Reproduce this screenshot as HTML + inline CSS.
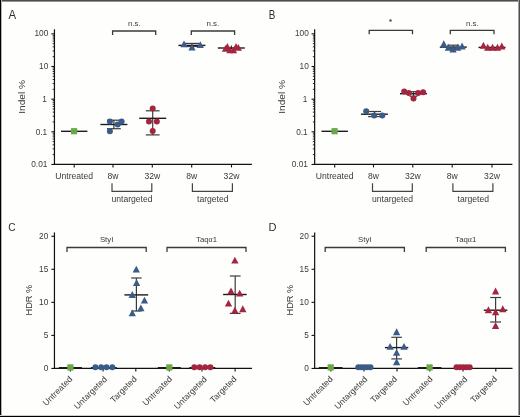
<!DOCTYPE html>
<html><head><meta charset="utf-8"><style>
html,body{margin:0;padding:0;background:#fff;}
body{width:520px;height:417px;overflow:hidden;}
svg{display:block;}
svg{will-change:transform;}
text{font-family:"Liberation Sans",sans-serif;}
</style></head><body>
<svg width="520" height="417" viewBox="0 0 520 417">
<rect x="0" y="0" width="520" height="417" fill="#fefefd"/>
<text class="m tx" x="8.50" y="19" font-size="12.4" fill="#2e2e2e" textLength="7.6" lengthAdjust="spacingAndGlyphs">A</text>
<line x1="54.45" y1="29.30" x2="54.45" y2="165.00" stroke="#111" stroke-width="1.2"/>
<line x1="53.85" y1="164.45" x2="251.90" y2="164.45" stroke="#111" stroke-width="1.2"/>
<line x1="51.35" y1="164.45" x2="54.45" y2="164.45" stroke="#111" stroke-width="1.1"/>
<line x1="52.65" y1="154.62" x2="54.45" y2="154.62" stroke="#111" stroke-width="0.9"/>
<line x1="52.65" y1="148.87" x2="54.45" y2="148.87" stroke="#111" stroke-width="0.9"/>
<line x1="52.65" y1="144.79" x2="54.45" y2="144.79" stroke="#111" stroke-width="0.9"/>
<line x1="52.65" y1="141.63" x2="54.45" y2="141.63" stroke="#111" stroke-width="0.9"/>
<line x1="52.65" y1="139.04" x2="54.45" y2="139.04" stroke="#111" stroke-width="0.9"/>
<line x1="52.65" y1="136.86" x2="54.45" y2="136.86" stroke="#111" stroke-width="0.9"/>
<line x1="52.65" y1="134.96" x2="54.45" y2="134.96" stroke="#111" stroke-width="0.9"/>
<line x1="52.65" y1="133.29" x2="54.45" y2="133.29" stroke="#111" stroke-width="0.9"/>
<line x1="51.35" y1="131.80" x2="54.45" y2="131.80" stroke="#111" stroke-width="1.1"/>
<line x1="52.65" y1="121.97" x2="54.45" y2="121.97" stroke="#111" stroke-width="0.9"/>
<line x1="52.65" y1="116.22" x2="54.45" y2="116.22" stroke="#111" stroke-width="0.9"/>
<line x1="52.65" y1="112.14" x2="54.45" y2="112.14" stroke="#111" stroke-width="0.9"/>
<line x1="52.65" y1="108.98" x2="54.45" y2="108.98" stroke="#111" stroke-width="0.9"/>
<line x1="52.65" y1="106.39" x2="54.45" y2="106.39" stroke="#111" stroke-width="0.9"/>
<line x1="52.65" y1="104.21" x2="54.45" y2="104.21" stroke="#111" stroke-width="0.9"/>
<line x1="52.65" y1="102.31" x2="54.45" y2="102.31" stroke="#111" stroke-width="0.9"/>
<line x1="52.65" y1="100.64" x2="54.45" y2="100.64" stroke="#111" stroke-width="0.9"/>
<line x1="51.35" y1="99.15" x2="54.45" y2="99.15" stroke="#111" stroke-width="1.1"/>
<line x1="52.65" y1="89.32" x2="54.45" y2="89.32" stroke="#111" stroke-width="0.9"/>
<line x1="52.65" y1="83.57" x2="54.45" y2="83.57" stroke="#111" stroke-width="0.9"/>
<line x1="52.65" y1="79.49" x2="54.45" y2="79.49" stroke="#111" stroke-width="0.9"/>
<line x1="52.65" y1="76.33" x2="54.45" y2="76.33" stroke="#111" stroke-width="0.9"/>
<line x1="52.65" y1="73.74" x2="54.45" y2="73.74" stroke="#111" stroke-width="0.9"/>
<line x1="52.65" y1="71.56" x2="54.45" y2="71.56" stroke="#111" stroke-width="0.9"/>
<line x1="52.65" y1="69.66" x2="54.45" y2="69.66" stroke="#111" stroke-width="0.9"/>
<line x1="52.65" y1="67.99" x2="54.45" y2="67.99" stroke="#111" stroke-width="0.9"/>
<line x1="51.35" y1="66.50" x2="54.45" y2="66.50" stroke="#111" stroke-width="1.1"/>
<line x1="52.65" y1="56.67" x2="54.45" y2="56.67" stroke="#111" stroke-width="0.9"/>
<line x1="52.65" y1="50.92" x2="54.45" y2="50.92" stroke="#111" stroke-width="0.9"/>
<line x1="52.65" y1="46.84" x2="54.45" y2="46.84" stroke="#111" stroke-width="0.9"/>
<line x1="52.65" y1="43.68" x2="54.45" y2="43.68" stroke="#111" stroke-width="0.9"/>
<line x1="52.65" y1="41.09" x2="54.45" y2="41.09" stroke="#111" stroke-width="0.9"/>
<line x1="52.65" y1="38.91" x2="54.45" y2="38.91" stroke="#111" stroke-width="0.9"/>
<line x1="52.65" y1="37.01" x2="54.45" y2="37.01" stroke="#111" stroke-width="0.9"/>
<line x1="52.65" y1="35.34" x2="54.45" y2="35.34" stroke="#111" stroke-width="0.9"/>
<line x1="51.35" y1="33.85" x2="54.45" y2="33.85" stroke="#111" stroke-width="1.1"/>
<text class="m tx" x="48.30" y="36.00" font-size="8.3" text-anchor="end" fill="#3a3a3a" >100</text>
<text class="m tx" x="48.30" y="69.00" font-size="8.3" text-anchor="end" fill="#3a3a3a" >10</text>
<text class="m tx" x="46.90" y="102.00" font-size="8.3" text-anchor="end" fill="#3a3a3a" >1</text>
<text class="m tx" x="47.20" y="135.00" font-size="8.3" text-anchor="end" fill="#3a3a3a" >0.1</text>
<text class="m tx" x="47.40" y="167.00" font-size="8.3" text-anchor="end" fill="#3a3a3a" >0.01</text>
<text class="m" transform="translate(24.60,96.9) rotate(-90)" font-size="9.2" text-anchor="middle" fill="#3a3a3a" textLength="33.8" lengthAdjust="spacingAndGlyphs">Indel %</text>
<line x1="74.20" y1="164.45" x2="74.20" y2="167.40" stroke="#111" stroke-width="1.1"/>
<line x1="113.00" y1="164.45" x2="113.00" y2="167.40" stroke="#111" stroke-width="1.1"/>
<line x1="152.30" y1="164.45" x2="152.30" y2="167.40" stroke="#111" stroke-width="1.1"/>
<line x1="191.70" y1="164.45" x2="191.70" y2="167.40" stroke="#111" stroke-width="1.1"/>
<line x1="231.50" y1="164.45" x2="231.50" y2="167.40" stroke="#111" stroke-width="1.1"/>
<text class="m tx" x="74.20" y="178.80" font-size="8.6" text-anchor="middle" fill="#3a3a3a" >Untreated</text>
<text class="m tx" x="113.00" y="178.80" font-size="8.6" text-anchor="middle" fill="#3a3a3a" >8w</text>
<text class="m tx" x="152.30" y="178.80" font-size="8.6" text-anchor="middle" fill="#3a3a3a" >32w</text>
<text class="m tx" x="191.70" y="178.80" font-size="8.6" text-anchor="middle" fill="#3a3a3a" >8w</text>
<text class="m tx" x="231.50" y="178.80" font-size="8.6" text-anchor="middle" fill="#3a3a3a" >32w</text>
<path d="M112.00 183.20V191.30H151.80V183.20" fill="none" stroke="#444" stroke-width="1.2"/>
<text class="m tx" x="132.00" y="202.20" font-size="8.6" text-anchor="middle" fill="#3a3a3a" >untargeted</text>
<path d="M192.40 183.20V191.30H232.40V183.20" fill="none" stroke="#444" stroke-width="1.2"/>
<text class="m tx" x="212.80" y="202.20" font-size="8.6" text-anchor="middle" fill="#3a3a3a" >targeted</text>
<path d="M112.60 35.00V31.00H155.70V35.00" fill="none" stroke="#3a3a3a" stroke-width="1.3"/>
<text class="m tx" x="134.30" y="25.90" font-size="7.9" text-anchor="middle" fill="#3a3a3a" >n.s.</text>
<path d="M191.30 35.00V31.00H234.60V35.00" fill="none" stroke="#3a3a3a" stroke-width="1.3"/>
<text class="m tx" x="212.90" y="25.90" font-size="7.9" text-anchor="middle" fill="#3a3a3a" >n.s.</text>
<line x1="61.00" y1="131.30" x2="87.40" y2="131.30" stroke="#1c1c1c" stroke-width="1.4"/>
<rect x="71.00" y="128.10" width="6.2" height="6.2" fill="#69a847"/>
<line x1="113.90" y1="120.20" x2="113.90" y2="128.70" stroke="#3c3c3c" stroke-width="1.2"/>
<line x1="107.00" y1="120.20" x2="120.80" y2="120.20" stroke="#3c3c3c" stroke-width="1.2"/>
<line x1="107.00" y1="128.70" x2="120.80" y2="128.70" stroke="#3c3c3c" stroke-width="1.2"/>
<line x1="100.40" y1="124.50" x2="127.40" y2="124.50" stroke="#1c1c1c" stroke-width="1.4"/>
<circle cx="109.90" cy="121.40" r="3.0" fill="#3b5b89"/>
<circle cx="121.60" cy="121.40" r="3.0" fill="#3b5b89"/>
<circle cx="117.70" cy="124.60" r="3.0" fill="#3b5b89"/>
<circle cx="109.90" cy="131.30" r="3.0" fill="#3b5b89"/>
<line x1="152.70" y1="110.80" x2="152.70" y2="134.90" stroke="#3c3c3c" stroke-width="1.2"/>
<line x1="145.80" y1="110.80" x2="159.60" y2="110.80" stroke="#3c3c3c" stroke-width="1.2"/>
<line x1="145.80" y1="134.90" x2="159.60" y2="134.90" stroke="#3c3c3c" stroke-width="1.2"/>
<line x1="139.20" y1="118.30" x2="166.20" y2="118.30" stroke="#1c1c1c" stroke-width="1.4"/>
<circle cx="152.70" cy="108.50" r="3.0" fill="#a3253f"/>
<circle cx="149.00" cy="121.60" r="3.0" fill="#a3253f"/>
<circle cx="156.80" cy="121.60" r="3.0" fill="#a3253f"/>
<circle cx="152.70" cy="130.90" r="3.0" fill="#a3253f"/>
<line x1="191.90" y1="43.40" x2="191.90" y2="46.50" stroke="#3c3c3c" stroke-width="1.2"/>
<line x1="184.40" y1="43.40" x2="199.40" y2="43.40" stroke="#3c3c3c" stroke-width="1.2"/>
<line x1="184.40" y1="46.50" x2="199.40" y2="46.50" stroke="#3c3c3c" stroke-width="1.2"/>
<line x1="178.40" y1="45.40" x2="205.40" y2="45.40" stroke="#1c1c1c" stroke-width="1.4"/>
<path d="M184.00 40.45L187.65 47.35L180.35 47.35Z" fill="#3b5b89"/>
<path d="M192.00 43.65L195.65 50.55L188.35 50.55Z" fill="#3b5b89"/>
<path d="M200.30 41.15L203.95 48.05L196.65 48.05Z" fill="#3b5b89"/>
<line x1="217.80" y1="48.00" x2="244.80" y2="48.00" stroke="#1c1c1c" stroke-width="1.4"/>
<path d="M225.50 44.95L229.15 51.85L221.85 51.85Z" fill="#a3253f"/>
<path d="M227.40 43.05L231.05 49.95L223.75 49.95Z" fill="#a3253f"/>
<path d="M230.00 46.45L233.65 53.35L226.35 53.35Z" fill="#a3253f"/>
<path d="M233.50 46.45L237.15 53.35L229.85 53.35Z" fill="#a3253f"/>
<path d="M236.00 43.05L239.65 49.95L232.35 49.95Z" fill="#a3253f"/>
<path d="M238.30 43.95L241.95 50.85L234.65 50.85Z" fill="#a3253f"/>
<line x1="231.30" y1="45.50" x2="231.30" y2="49.00" stroke="#111" stroke-width="1.0"/>
<text class="m tx" x="268.80" y="19" font-size="12.4" fill="#2e2e2e" textLength="6.6" lengthAdjust="spacingAndGlyphs">B</text>
<line x1="314.65" y1="29.30" x2="314.65" y2="165.00" stroke="#111" stroke-width="1.2"/>
<line x1="314.05" y1="164.45" x2="512.40" y2="164.45" stroke="#111" stroke-width="1.2"/>
<line x1="311.55" y1="164.45" x2="314.65" y2="164.45" stroke="#111" stroke-width="1.1"/>
<line x1="312.85" y1="154.62" x2="314.65" y2="154.62" stroke="#111" stroke-width="0.9"/>
<line x1="312.85" y1="148.87" x2="314.65" y2="148.87" stroke="#111" stroke-width="0.9"/>
<line x1="312.85" y1="144.79" x2="314.65" y2="144.79" stroke="#111" stroke-width="0.9"/>
<line x1="312.85" y1="141.63" x2="314.65" y2="141.63" stroke="#111" stroke-width="0.9"/>
<line x1="312.85" y1="139.04" x2="314.65" y2="139.04" stroke="#111" stroke-width="0.9"/>
<line x1="312.85" y1="136.86" x2="314.65" y2="136.86" stroke="#111" stroke-width="0.9"/>
<line x1="312.85" y1="134.96" x2="314.65" y2="134.96" stroke="#111" stroke-width="0.9"/>
<line x1="312.85" y1="133.29" x2="314.65" y2="133.29" stroke="#111" stroke-width="0.9"/>
<line x1="311.55" y1="131.80" x2="314.65" y2="131.80" stroke="#111" stroke-width="1.1"/>
<line x1="312.85" y1="121.97" x2="314.65" y2="121.97" stroke="#111" stroke-width="0.9"/>
<line x1="312.85" y1="116.22" x2="314.65" y2="116.22" stroke="#111" stroke-width="0.9"/>
<line x1="312.85" y1="112.14" x2="314.65" y2="112.14" stroke="#111" stroke-width="0.9"/>
<line x1="312.85" y1="108.98" x2="314.65" y2="108.98" stroke="#111" stroke-width="0.9"/>
<line x1="312.85" y1="106.39" x2="314.65" y2="106.39" stroke="#111" stroke-width="0.9"/>
<line x1="312.85" y1="104.21" x2="314.65" y2="104.21" stroke="#111" stroke-width="0.9"/>
<line x1="312.85" y1="102.31" x2="314.65" y2="102.31" stroke="#111" stroke-width="0.9"/>
<line x1="312.85" y1="100.64" x2="314.65" y2="100.64" stroke="#111" stroke-width="0.9"/>
<line x1="311.55" y1="99.15" x2="314.65" y2="99.15" stroke="#111" stroke-width="1.1"/>
<line x1="312.85" y1="89.32" x2="314.65" y2="89.32" stroke="#111" stroke-width="0.9"/>
<line x1="312.85" y1="83.57" x2="314.65" y2="83.57" stroke="#111" stroke-width="0.9"/>
<line x1="312.85" y1="79.49" x2="314.65" y2="79.49" stroke="#111" stroke-width="0.9"/>
<line x1="312.85" y1="76.33" x2="314.65" y2="76.33" stroke="#111" stroke-width="0.9"/>
<line x1="312.85" y1="73.74" x2="314.65" y2="73.74" stroke="#111" stroke-width="0.9"/>
<line x1="312.85" y1="71.56" x2="314.65" y2="71.56" stroke="#111" stroke-width="0.9"/>
<line x1="312.85" y1="69.66" x2="314.65" y2="69.66" stroke="#111" stroke-width="0.9"/>
<line x1="312.85" y1="67.99" x2="314.65" y2="67.99" stroke="#111" stroke-width="0.9"/>
<line x1="311.55" y1="66.50" x2="314.65" y2="66.50" stroke="#111" stroke-width="1.1"/>
<line x1="312.85" y1="56.67" x2="314.65" y2="56.67" stroke="#111" stroke-width="0.9"/>
<line x1="312.85" y1="50.92" x2="314.65" y2="50.92" stroke="#111" stroke-width="0.9"/>
<line x1="312.85" y1="46.84" x2="314.65" y2="46.84" stroke="#111" stroke-width="0.9"/>
<line x1="312.85" y1="43.68" x2="314.65" y2="43.68" stroke="#111" stroke-width="0.9"/>
<line x1="312.85" y1="41.09" x2="314.65" y2="41.09" stroke="#111" stroke-width="0.9"/>
<line x1="312.85" y1="38.91" x2="314.65" y2="38.91" stroke="#111" stroke-width="0.9"/>
<line x1="312.85" y1="37.01" x2="314.65" y2="37.01" stroke="#111" stroke-width="0.9"/>
<line x1="312.85" y1="35.34" x2="314.65" y2="35.34" stroke="#111" stroke-width="0.9"/>
<line x1="311.55" y1="33.85" x2="314.65" y2="33.85" stroke="#111" stroke-width="1.1"/>
<text class="m tx" x="308.80" y="36.00" font-size="8.3" text-anchor="end" fill="#3a3a3a" >100</text>
<text class="m tx" x="308.80" y="69.00" font-size="8.3" text-anchor="end" fill="#3a3a3a" >10</text>
<text class="m tx" x="307.40" y="102.00" font-size="8.3" text-anchor="end" fill="#3a3a3a" >1</text>
<text class="m tx" x="307.70" y="135.00" font-size="8.3" text-anchor="end" fill="#3a3a3a" >0.1</text>
<text class="m tx" x="307.90" y="167.00" font-size="8.3" text-anchor="end" fill="#3a3a3a" >0.01</text>
<text class="m" transform="translate(285.10,96.9) rotate(-90)" font-size="9.2" text-anchor="middle" fill="#3a3a3a" textLength="33.8" lengthAdjust="spacingAndGlyphs">Indel %</text>
<line x1="334.70" y1="164.45" x2="334.70" y2="167.40" stroke="#111" stroke-width="1.1"/>
<line x1="373.50" y1="164.45" x2="373.50" y2="167.40" stroke="#111" stroke-width="1.1"/>
<line x1="412.80" y1="164.45" x2="412.80" y2="167.40" stroke="#111" stroke-width="1.1"/>
<line x1="452.20" y1="164.45" x2="452.20" y2="167.40" stroke="#111" stroke-width="1.1"/>
<line x1="492.00" y1="164.45" x2="492.00" y2="167.40" stroke="#111" stroke-width="1.1"/>
<text class="m tx" x="334.70" y="178.80" font-size="8.6" text-anchor="middle" fill="#3a3a3a" >Untreated</text>
<text class="m tx" x="373.50" y="178.80" font-size="8.6" text-anchor="middle" fill="#3a3a3a" >8w</text>
<text class="m tx" x="412.80" y="178.80" font-size="8.6" text-anchor="middle" fill="#3a3a3a" >32w</text>
<text class="m tx" x="452.20" y="178.80" font-size="8.6" text-anchor="middle" fill="#3a3a3a" >8w</text>
<text class="m tx" x="492.00" y="178.80" font-size="8.6" text-anchor="middle" fill="#3a3a3a" >32w</text>
<path d="M372.50 183.20V191.30H412.30V183.20" fill="none" stroke="#444" stroke-width="1.2"/>
<text class="m tx" x="392.50" y="202.20" font-size="8.6" text-anchor="middle" fill="#3a3a3a" >untargeted</text>
<path d="M452.90 183.20V191.30H492.90V183.20" fill="none" stroke="#444" stroke-width="1.2"/>
<text class="m tx" x="473.30" y="202.20" font-size="8.6" text-anchor="middle" fill="#3a3a3a" >targeted</text>
<path d="M369.20 34.30V30.30H412.50V34.30" fill="none" stroke="#3a3a3a" stroke-width="1.3"/>
<circle cx="390.50" cy="20.60" r="1.25" fill="#555"/>
<path d="M450.30 34.30V30.30H494.00V34.30" fill="none" stroke="#3a3a3a" stroke-width="1.3"/>
<text class="m tx" x="472.40" y="25.90" font-size="7.9" text-anchor="middle" fill="#3a3a3a" >n.s.</text>
<line x1="321.50" y1="131.30" x2="347.90" y2="131.30" stroke="#1c1c1c" stroke-width="1.4"/>
<rect x="331.50" y="128.10" width="6.2" height="6.2" fill="#69a847"/>
<line x1="374.60" y1="111.50" x2="374.60" y2="116.60" stroke="#3c3c3c" stroke-width="1.2"/>
<line x1="368.10" y1="111.50" x2="381.10" y2="111.50" stroke="#3c3c3c" stroke-width="1.2"/>
<line x1="368.10" y1="116.60" x2="381.10" y2="116.60" stroke="#3c3c3c" stroke-width="1.2"/>
<line x1="360.90" y1="114.20" x2="387.90" y2="114.20" stroke="#1c1c1c" stroke-width="1.4"/>
<circle cx="366.20" cy="111.20" r="3.0" fill="#3b5b89"/>
<circle cx="374.20" cy="115.40" r="3.0" fill="#3b5b89"/>
<circle cx="382.30" cy="115.40" r="3.0" fill="#3b5b89"/>
<line x1="413.50" y1="91.70" x2="413.50" y2="96.20" stroke="#3c3c3c" stroke-width="1.2"/>
<line x1="409.50" y1="91.70" x2="417.50" y2="91.70" stroke="#3c3c3c" stroke-width="1.2"/>
<line x1="409.50" y1="96.20" x2="417.50" y2="96.20" stroke="#3c3c3c" stroke-width="1.2"/>
<line x1="400.00" y1="93.70" x2="427.00" y2="93.70" stroke="#1c1c1c" stroke-width="1.4"/>
<circle cx="404.20" cy="91.40" r="3.0" fill="#a3253f"/>
<circle cx="408.80" cy="93.10" r="3.0" fill="#a3253f"/>
<circle cx="418.10" cy="93.10" r="3.0" fill="#a3253f"/>
<circle cx="423.10" cy="92.30" r="3.0" fill="#a3253f"/>
<circle cx="413.50" cy="98.50" r="3.0" fill="#a3253f"/>
<line x1="453.30" y1="45.20" x2="453.30" y2="48.40" stroke="#3c3c3c" stroke-width="1.2"/>
<line x1="447.30" y1="45.20" x2="459.30" y2="45.20" stroke="#3c3c3c" stroke-width="1.2"/>
<line x1="447.30" y1="48.40" x2="459.30" y2="48.40" stroke="#3c3c3c" stroke-width="1.2"/>
<line x1="439.80" y1="47.10" x2="466.80" y2="47.10" stroke="#1c1c1c" stroke-width="1.4"/>
<path d="M443.80 40.25L447.45 47.15L440.15 47.15Z" fill="#3b5b89"/>
<path d="M448.40 43.85L452.05 50.75L444.75 50.75Z" fill="#3b5b89"/>
<path d="M457.60 43.85L461.25 50.75L453.95 50.75Z" fill="#3b5b89"/>
<path d="M462.10 42.55L465.75 49.45L458.45 49.45Z" fill="#3b5b89"/>
<path d="M453.00 45.55L456.65 52.45L449.35 52.45Z" fill="#3b5b89"/>
<line x1="478.50" y1="47.40" x2="505.50" y2="47.40" stroke="#1c1c1c" stroke-width="1.4"/>
<path d="M483.40 41.85L487.05 48.75L479.75 48.75Z" fill="#a3253f"/>
<path d="M487.70 43.85L491.35 50.75L484.05 50.75Z" fill="#a3253f"/>
<path d="M492.60 43.85L496.25 50.75L488.95 50.75Z" fill="#a3253f"/>
<path d="M497.50 43.85L501.15 50.75L493.85 50.75Z" fill="#a3253f"/>
<path d="M501.80 42.55L505.45 49.45L498.15 49.45Z" fill="#a3253f"/>
<text class="m tx" x="8.20" y="231.1" font-size="11.6" fill="#2e2e2e" textLength="7.3" lengthAdjust="spacingAndGlyphs">C</text>
<line x1="54.45" y1="232.40" x2="54.45" y2="369.00" stroke="#111" stroke-width="1.2"/>
<line x1="53.85" y1="368.45" x2="252.00" y2="368.45" stroke="#111" stroke-width="1.2"/>
<line x1="51.35" y1="368.45" x2="54.45" y2="368.45" stroke="#111" stroke-width="1.1"/>
<text class="m tx" x="48.30" y="371.45" font-size="8.3" text-anchor="end" fill="#3a3a3a" >0</text>
<line x1="51.35" y1="335.40" x2="54.45" y2="335.40" stroke="#111" stroke-width="1.1"/>
<text class="m tx" x="48.30" y="338.40" font-size="8.3" text-anchor="end" fill="#3a3a3a" >5</text>
<line x1="51.35" y1="302.35" x2="54.45" y2="302.35" stroke="#111" stroke-width="1.1"/>
<text class="m tx" x="48.30" y="305.35" font-size="8.3" text-anchor="end" fill="#3a3a3a" >10</text>
<line x1="51.35" y1="269.30" x2="54.45" y2="269.30" stroke="#111" stroke-width="1.1"/>
<text class="m tx" x="48.30" y="272.30" font-size="8.3" text-anchor="end" fill="#3a3a3a" >15</text>
<line x1="51.35" y1="236.25" x2="54.45" y2="236.25" stroke="#111" stroke-width="1.1"/>
<text class="m tx" x="48.30" y="239.25" font-size="8.3" text-anchor="end" fill="#3a3a3a" >20</text>
<text class="m" transform="translate(32.30,300.1) rotate(-90)" font-size="9.9" text-anchor="middle" fill="#3a3a3a" textLength="30.6" lengthAdjust="spacingAndGlyphs">HDR %</text>
<line x1="70.40" y1="368.45" x2="70.40" y2="371.40" stroke="#111" stroke-width="1.1"/>
<line x1="103.10" y1="368.45" x2="103.10" y2="371.40" stroke="#111" stroke-width="1.1"/>
<line x1="135.80" y1="368.45" x2="135.80" y2="371.40" stroke="#111" stroke-width="1.1"/>
<line x1="169.30" y1="368.45" x2="169.30" y2="371.40" stroke="#111" stroke-width="1.1"/>
<line x1="202.00" y1="368.45" x2="202.00" y2="371.40" stroke="#111" stroke-width="1.1"/>
<line x1="235.10" y1="368.45" x2="235.10" y2="371.40" stroke="#111" stroke-width="1.1"/>
<text class="m" transform="translate(72.95,379.65) rotate(-45)" font-size="8.6" text-anchor="end" fill="#3a3a3a">Untreated</text>
<text class="m" transform="translate(107.55,379.75) rotate(-45)" font-size="8.6" text-anchor="end" fill="#3a3a3a">Untargeted</text>
<text class="m" transform="translate(137.30,379.65) rotate(-45)" font-size="8.6" text-anchor="end" fill="#3a3a3a">Targeted</text>
<text class="m" transform="translate(172.65,379.65) rotate(-45)" font-size="8.6" text-anchor="end" fill="#3a3a3a">Untreated</text>
<text class="m" transform="translate(207.45,379.75) rotate(-45)" font-size="8.6" text-anchor="end" fill="#3a3a3a">Untargeted</text>
<text class="m" transform="translate(237.20,379.65) rotate(-45)" font-size="8.6" text-anchor="end" fill="#3a3a3a">Targeted</text>
<path d="M67.00 252.10V247.50H146.20V252.10" fill="none" stroke="#3a3a3a" stroke-width="1.3"/>
<text class="m tx" x="106.60" y="241.90" font-size="7.8" text-anchor="middle" fill="#3a3a3a" >StyI</text>
<path d="M167.00 252.10V247.50H246.00V252.10" fill="none" stroke="#3a3a3a" stroke-width="1.3"/>
<text class="m tx" x="206.50" y="241.90" font-size="7.8" text-anchor="middle" fill="#3a3a3a" >Taq<tspan font-family="Liberation Serif">&#945;</tspan>1</text>
<line x1="58.90" y1="367.70" x2="81.90" y2="367.70" stroke="#1c1c1c" stroke-width="1.4"/>
<rect x="67.30" y="364.30" width="6.2" height="6.2" fill="#69a847"/>
<line x1="90.80" y1="367.70" x2="116.80" y2="367.70" stroke="#1c1c1c" stroke-width="1.4"/>
<circle cx="95.40" cy="367.30" r="3.0" fill="#3b5b89"/>
<circle cx="101.20" cy="367.30" r="3.0" fill="#3b5b89"/>
<circle cx="106.50" cy="367.30" r="3.0" fill="#3b5b89"/>
<circle cx="112.30" cy="367.30" r="3.0" fill="#3b5b89"/>
<line x1="136.40" y1="278.00" x2="136.40" y2="311.00" stroke="#3c3c3c" stroke-width="1.2"/>
<line x1="131.20" y1="278.00" x2="141.60" y2="278.00" stroke="#3c3c3c" stroke-width="1.2"/>
<line x1="131.20" y1="311.00" x2="141.60" y2="311.00" stroke="#3c3c3c" stroke-width="1.2"/>
<line x1="124.40" y1="294.90" x2="148.20" y2="294.90" stroke="#1c1c1c" stroke-width="1.4"/>
<path d="M136.30 265.65L139.95 272.55L132.65 272.55Z" fill="#3b5b89"/>
<path d="M136.60 279.05L140.25 285.95L132.95 285.95Z" fill="#3b5b89"/>
<path d="M132.30 291.05L135.95 297.95L128.65 297.95Z" fill="#3b5b89"/>
<path d="M144.50 296.65L148.15 303.55L140.85 303.55Z" fill="#3b5b89"/>
<path d="M140.90 304.45L144.55 311.35L137.25 311.35Z" fill="#3b5b89"/>
<path d="M132.30 309.45L135.95 316.35L128.65 316.35Z" fill="#3b5b89"/>
<line x1="157.80" y1="367.70" x2="180.80" y2="367.70" stroke="#1c1c1c" stroke-width="1.4"/>
<rect x="166.20" y="364.30" width="6.2" height="6.2" fill="#69a847"/>
<line x1="189.30" y1="367.70" x2="215.30" y2="367.70" stroke="#1c1c1c" stroke-width="1.4"/>
<circle cx="194.30" cy="367.30" r="3.0" fill="#a3253f"/>
<circle cx="199.60" cy="367.30" r="3.0" fill="#a3253f"/>
<circle cx="205.10" cy="367.30" r="3.0" fill="#a3253f"/>
<circle cx="210.40" cy="367.30" r="3.0" fill="#a3253f"/>
<line x1="235.20" y1="276.00" x2="235.20" y2="313.40" stroke="#3c3c3c" stroke-width="1.2"/>
<line x1="229.80" y1="276.00" x2="240.60" y2="276.00" stroke="#3c3c3c" stroke-width="1.2"/>
<line x1="229.80" y1="313.40" x2="240.60" y2="313.40" stroke="#3c3c3c" stroke-width="1.2"/>
<line x1="223.10" y1="294.50" x2="246.70" y2="294.50" stroke="#1c1c1c" stroke-width="1.4"/>
<path d="M234.90 256.65L238.55 263.55L231.25 263.55Z" fill="#a3253f"/>
<path d="M231.00 287.45L234.65 294.35L227.35 294.35Z" fill="#a3253f"/>
<path d="M239.70 289.65L243.35 296.55L236.05 296.55Z" fill="#a3253f"/>
<path d="M228.50 299.65L232.15 306.55L224.85 306.55Z" fill="#a3253f"/>
<path d="M234.90 306.65L238.55 313.55L231.25 313.55Z" fill="#a3253f"/>
<path d="M242.80 305.35L246.45 312.25L239.15 312.25Z" fill="#a3253f"/>
<text class="m tx" x="268.40" y="231.1" font-size="11.6" fill="#2e2e2e" textLength="8.0" lengthAdjust="spacingAndGlyphs">D</text>
<line x1="314.65" y1="232.40" x2="314.65" y2="369.00" stroke="#111" stroke-width="1.2"/>
<line x1="314.05" y1="368.45" x2="512.50" y2="368.45" stroke="#111" stroke-width="1.2"/>
<line x1="311.55" y1="368.45" x2="314.65" y2="368.45" stroke="#111" stroke-width="1.1"/>
<text class="m tx" x="308.80" y="371.45" font-size="8.3" text-anchor="end" fill="#3a3a3a" >0</text>
<line x1="311.55" y1="335.40" x2="314.65" y2="335.40" stroke="#111" stroke-width="1.1"/>
<text class="m tx" x="308.80" y="338.40" font-size="8.3" text-anchor="end" fill="#3a3a3a" >5</text>
<line x1="311.55" y1="302.35" x2="314.65" y2="302.35" stroke="#111" stroke-width="1.1"/>
<text class="m tx" x="308.80" y="305.35" font-size="8.3" text-anchor="end" fill="#3a3a3a" >10</text>
<line x1="311.55" y1="269.30" x2="314.65" y2="269.30" stroke="#111" stroke-width="1.1"/>
<text class="m tx" x="308.80" y="272.30" font-size="8.3" text-anchor="end" fill="#3a3a3a" >15</text>
<line x1="311.55" y1="236.25" x2="314.65" y2="236.25" stroke="#111" stroke-width="1.1"/>
<text class="m tx" x="308.80" y="239.25" font-size="8.3" text-anchor="end" fill="#3a3a3a" >20</text>
<text class="m" transform="translate(292.80,300.1) rotate(-90)" font-size="9.9" text-anchor="middle" fill="#3a3a3a" textLength="30.6" lengthAdjust="spacingAndGlyphs">HDR %</text>
<line x1="330.80" y1="368.45" x2="330.80" y2="371.40" stroke="#111" stroke-width="1.1"/>
<line x1="364.00" y1="368.45" x2="364.00" y2="371.40" stroke="#111" stroke-width="1.1"/>
<line x1="397.00" y1="368.45" x2="397.00" y2="371.40" stroke="#111" stroke-width="1.1"/>
<line x1="429.80" y1="368.45" x2="429.80" y2="371.40" stroke="#111" stroke-width="1.1"/>
<line x1="463.00" y1="368.45" x2="463.00" y2="371.40" stroke="#111" stroke-width="1.1"/>
<line x1="495.80" y1="368.45" x2="495.80" y2="371.40" stroke="#111" stroke-width="1.1"/>
<text class="m" transform="translate(333.35,379.65) rotate(-45)" font-size="8.6" text-anchor="end" fill="#3a3a3a">Untreated</text>
<text class="m" transform="translate(367.95,379.75) rotate(-45)" font-size="8.6" text-anchor="end" fill="#3a3a3a">Untargeted</text>
<text class="m" transform="translate(397.70,379.65) rotate(-45)" font-size="8.6" text-anchor="end" fill="#3a3a3a">Targeted</text>
<text class="m" transform="translate(433.05,379.65) rotate(-45)" font-size="8.6" text-anchor="end" fill="#3a3a3a">Untreated</text>
<text class="m" transform="translate(467.85,379.75) rotate(-45)" font-size="8.6" text-anchor="end" fill="#3a3a3a">Untargeted</text>
<text class="m" transform="translate(497.60,379.65) rotate(-45)" font-size="8.6" text-anchor="end" fill="#3a3a3a">Targeted</text>
<path d="M325.20 252.10V247.50H404.40V252.10" fill="none" stroke="#3a3a3a" stroke-width="1.3"/>
<text class="m tx" x="364.80" y="241.90" font-size="7.8" text-anchor="middle" fill="#3a3a3a" >StyI</text>
<path d="M426.20 252.10V247.50H505.40V252.10" fill="none" stroke="#3a3a3a" stroke-width="1.3"/>
<text class="m tx" x="465.80" y="241.90" font-size="7.8" text-anchor="middle" fill="#3a3a3a" >Taq<tspan font-family="Liberation Serif">&#945;</tspan>1</text>
<line x1="318.90" y1="367.70" x2="342.50" y2="367.70" stroke="#1c1c1c" stroke-width="1.4"/>
<rect x="327.60" y="364.30" width="6.2" height="6.2" fill="#69a847"/>
<circle cx="358.30" cy="367.30" r="3.0" fill="#3b5b89"/>
<circle cx="361.40" cy="367.30" r="3.0" fill="#3b5b89"/>
<circle cx="364.50" cy="367.30" r="3.0" fill="#3b5b89"/>
<circle cx="367.50" cy="367.30" r="3.0" fill="#3b5b89"/>
<circle cx="370.50" cy="367.30" r="3.0" fill="#3b5b89"/>
<line x1="396.60" y1="337.30" x2="396.60" y2="358.90" stroke="#3c3c3c" stroke-width="1.2"/>
<line x1="391.30" y1="337.30" x2="401.90" y2="337.30" stroke="#3c3c3c" stroke-width="1.2"/>
<line x1="391.30" y1="358.90" x2="401.90" y2="358.90" stroke="#3c3c3c" stroke-width="1.2"/>
<line x1="384.90" y1="347.60" x2="408.30" y2="347.60" stroke="#1c1c1c" stroke-width="1.4"/>
<path d="M396.60 328.35L400.25 335.25L392.95 335.25Z" fill="#3b5b89"/>
<path d="M390.10 342.95L393.75 349.85L386.45 349.85Z" fill="#3b5b89"/>
<path d="M404.00 342.95L407.65 349.85L400.35 349.85Z" fill="#3b5b89"/>
<path d="M396.60 348.95L400.25 355.85L392.95 355.85Z" fill="#3b5b89"/>
<path d="M396.60 358.35L400.25 365.25L392.95 365.25Z" fill="#3b5b89"/>
<line x1="417.80" y1="367.70" x2="441.40" y2="367.70" stroke="#1c1c1c" stroke-width="1.4"/>
<rect x="426.50" y="364.30" width="6.2" height="6.2" fill="#69a847"/>
<circle cx="456.50" cy="367.30" r="3.0" fill="#a3253f"/>
<circle cx="459.80" cy="367.30" r="3.0" fill="#a3253f"/>
<circle cx="463.10" cy="367.30" r="3.0" fill="#a3253f"/>
<circle cx="466.40" cy="367.30" r="3.0" fill="#a3253f"/>
<circle cx="469.70" cy="367.30" r="3.0" fill="#a3253f"/>
<line x1="495.60" y1="297.50" x2="495.60" y2="322.00" stroke="#3c3c3c" stroke-width="1.2"/>
<line x1="490.20" y1="297.50" x2="501.00" y2="297.50" stroke="#3c3c3c" stroke-width="1.2"/>
<line x1="490.20" y1="322.00" x2="501.00" y2="322.00" stroke="#3c3c3c" stroke-width="1.2"/>
<line x1="483.80" y1="310.20" x2="507.40" y2="310.20" stroke="#1c1c1c" stroke-width="1.4"/>
<path d="M495.60 287.55L499.25 294.45L491.95 294.45Z" fill="#a3253f"/>
<path d="M488.40 306.25L492.05 313.15L484.75 313.15Z" fill="#a3253f"/>
<path d="M502.80 305.25L506.45 312.15L499.15 312.15Z" fill="#a3253f"/>
<path d="M495.60 308.25L499.25 315.15L491.95 315.15Z" fill="#a3253f"/>
<path d="M495.60 322.05L499.25 328.95L491.95 328.95Z" fill="#a3253f"/>
<g shape-rendering="crispEdges">
<rect x="0" y="1" width="520" height="1" fill="#959595"/>
<rect x="0" y="0" width="520" height="1" fill="#4d4d4d"/>
<rect x="518" y="0" width="1" height="417" fill="#a0a0a0"/>
<rect x="519" y="0" width="1" height="417" fill="#4d4d4d"/>
<rect x="1" y="0" width="1" height="417" fill="#b4b4b4"/>
<rect x="0" y="0" width="1" height="417" fill="#000"/>
<rect x="0" y="415" width="520" height="1" fill="#d0d0d0"/>
<rect x="0" y="416" width="520" height="1" fill="#000"/>
</g>
</svg>
</body></html>
